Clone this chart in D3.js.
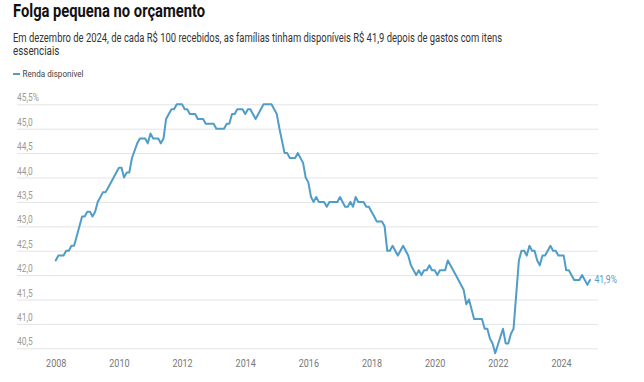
<!DOCTYPE html>
<html>
<head>
<meta charset="utf-8">
<script src="https://cdn.jsdelivr.net/npm/d3@7"></script>
<style>
  html, body { margin: 0; padding: 0; background: #fff; }
  svg { display: block; font-family: Roboto, "Noto Sans", sans-serif; }
</style>
</head>
<body>
<svg id="chart" width="644" height="382"></svg>
<script>
const title = "Folga pequena no orçamento";
const subtitleLines = [
  "Em dezembro de 2024, de cada R$ 100 recebidos, as famílias tinham disponíveis R$ 41,9 depois de gastos com itens",
  "essenciais"
];
const seriesName = "Renda disponível";

const months = [
  "2008-01","2008-02","2008-04","2008-05","2008-06","2008-07","2008-08","2008-09","2008-11","2008-12",
  "2009-01","2009-02","2009-03","2009-04","2009-05","2009-07","2009-08","2009-09",
  "2010-01","2010-02","2010-03","2010-04","2010-05","2010-06","2010-08","2010-09","2010-11","2010-12",
  "2011-01","2011-02","2011-04","2011-05","2011-06","2011-07","2011-08","2011-09","2011-10","2011-11",
  "2012-01","2012-02","2012-03","2012-04","2012-06","2012-07","2012-09","2012-10",
  "2013-01","2013-02","2013-05","2013-06","2013-07","2013-08","2013-09","2013-10","2013-12",
  "2014-01","2014-02","2014-03","2014-05","2014-08","2014-11",
  "2015-01","2015-02","2015-04","2015-05","2015-06","2015-08","2015-09","2015-11","2015-12",
  "2016-01","2016-02","2016-03","2016-04","2016-05","2016-07","2016-08","2016-09","2016-12",
  "2017-01","2017-03","2017-04","2017-05","2017-06","2017-07","2017-08","2017-10","2017-11","2017-12",
  "2018-01","2018-02","2018-03","2018-05","2018-06","2018-07","2018-08","2018-09","2018-11",
  "2019-01","2019-03","2019-04","2019-06","2019-07","2019-08","2019-09","2019-10","2019-11","2019-12",
  "2020-01","2020-02","2020-03","2020-05","2020-06","2020-07","2020-09","2020-12",
  "2021-01","2021-02","2021-04","2021-07","2021-08","2021-09","2021-10","2021-11","2021-12",
  "2022-03","2022-04","2022-05","2022-06","2022-07","2022-08","2022-09","2022-10","2022-11","2022-12",
  "2023-01","2023-02","2023-03","2023-04","2023-05","2023-06","2023-07","2023-09","2023-10","2023-11","2023-12",
  "2024-02","2024-03","2024-04","2024-06","2024-08","2024-09","2024-11","2024-12"
];
const renda = [
  42.3,42.4,42.4,42.5,42.5,42.6,42.6,42.8,43.2,43.2,
  43.3,43.3,43.2,43.3,43.5,43.7,43.7,43.8,
  44.2,44.2,44.0,44.1,44.1,44.4,44.7,44.8,44.8,44.7,
  44.9,44.8,44.8,44.7,44.8,45.2,45.3,45.4,45.4,45.5,
  45.5,45.4,45.4,45.3,45.3,45.2,45.2,45.1,
  45.1,45.0,45.0,45.1,45.1,45.3,45.3,45.4,45.4,
  45.3,45.4,45.4,45.2,45.5,45.5,
  45.3,45.0,44.5,44.5,44.4,44.4,44.5,44.3,44.0,
  43.9,43.6,43.5,43.6,43.5,43.5,43.4,43.5,43.5,
  43.6,43.4,43.4,43.5,43.4,43.6,43.5,43.5,43.4,43.4,
  43.3,43.2,43.1,43.1,43.0,42.5,42.5,42.6,42.4,
  42.6,42.4,42.2,42.0,42.1,42.0,42.1,42.1,42.2,42.1,
  42.1,42.0,42.1,42.1,42.3,42.2,42.0,41.7,
  41.4,41.5,41.1,41.1,40.9,40.9,40.7,40.6,40.4,
  40.9,40.6,40.6,40.8,40.9,41.6,42.3,42.5,42.5,42.4,
  42.6,42.5,42.5,42.3,42.2,42.4,42.4,42.6,42.5,42.5,42.4,
  42.4,42.1,42.1,41.9,41.9,42.0,41.8,41.9
];
const yTicks = [40.5, 41.0, 41.5, 42.0, 42.5, 43.0, 43.5, 44.0, 44.5, 45.0, 45.5];
const xTickYears = [2008, 2010, 2012, 2014, 2016, 2018, 2020, 2022, 2024];

const lineColor = "#4f9dc8";
const svg = d3.select("#chart");
const parse = d3.timeParse("%Y-%m");
const data = months.map((m, i) => ({ date: parse(m), value: renda[i] }));

const x = d3.scaleTime()
  .domain([new Date(2008, 0, 1), new Date(2024, 0, 1)])
  .range([55.7, 561]);
const y = d3.scaleLinear().domain([40.5, 45.5]).range([348.3, 104.3]);
const gridLeft = 17, gridRight = 598;

function condense(sel, f) {
  sel.each(function () {
    const w = this.getComputedTextLength();
    this.setAttribute("textLength", w * f);
    this.setAttribute("lengthAdjust", "spacingAndGlyphs");
  });
}
function fitTo(sel, width) {
  sel.attr("textLength", width).attr("lengthAdjust", "spacingAndGlyphs");
}

// Title
svg.append("text").attr("x", 13).attr("y", 17)
  .attr("font-size", 18).attr("font-weight", 700).attr("fill", "#111")
  .text(title).call(fitTo, 192);

// Subtitle
svg.append("text").attr("x", 13).attr("y", 41.5)
  .attr("font-size", 12).attr("fill", "#333")
  .text(subtitleLines[0]).call(fitTo, 489);
svg.append("text").attr("x", 13).attr("y", 55)
  .attr("font-size", 12).attr("fill", "#333")
  .text(subtitleLines[1]).call(condense, 0.82);

// Legend
svg.append("line").attr("x1", 13).attr("x2", 20).attr("y1", 74).attr("y2", 74)
  .attr("stroke", lineColor).attr("stroke-width", 2);
svg.append("text").attr("x", 22.5).attr("y", 77.3)
  .attr("font-size", 9.5).attr("fill", "#444")
  .text(seriesName).call(condense, 0.85);

// Y axis with gridlines
const fmt = d3.format(".1f");
const yAxis = d3.axisRight(y)
  .tickValues(yTicks)
  .tickSize(gridRight - gridLeft)
  .tickFormat(d => fmt(d).replace(".", ",") + (d === 45.5 ? "%" : ""));
const gy = svg.append("g").attr("transform", `translate(${gridLeft},0)`).call(yAxis);
gy.select(".domain").remove();
gy.selectAll(".tick line").attr("stroke", "#e4e4e4").attr("stroke-width", 1);
gy.selectAll(".tick text")
  .attr("x", 0).attr("dy", "-3.5").attr("text-anchor", "start")
  .attr("font-size", 10).attr("font-family", "Roboto, sans-serif").attr("fill", "#9a9a9a")
  .call(condense, 0.84);

// X axis
const xAxis = d3.axisBottom(x)
  .tickValues(xTickYears.map(yr => new Date(yr, 0, 1)))
  .tickSize(0)
  .tickFormat(d3.timeFormat("%Y"));
const gx = svg.append("g").attr("transform", "translate(0,348.3)").call(xAxis);
gx.select(".domain").remove();
gx.selectAll(".tick text")
  .attr("y", 0).attr("dy", "18.5")
  .attr("font-size", 10).attr("font-family", "Roboto, sans-serif").attr("fill", "#777")
  .call(condense, 0.9);

// Line
const line = d3.line().x(d => x(d.date)).y(d => y(d.value));
svg.append("path").datum(data)
  .attr("fill", "none").attr("stroke", lineColor).attr("stroke-width", 2)
  .attr("stroke-linejoin", "round").attr("stroke-linecap", "round")
  .attr("d", line);

// End label
const last = data[data.length - 1];
svg.append("text")
  .attr("x", x(last.date) + 4.5).attr("y", y(last.value) + 3.5)
  .attr("font-size", 10).attr("fill", "#5a98bd")
  .text(fmt(last.value).replace(".", ",") + "%").call(condense, 0.86);
</script>
</body>
</html>
